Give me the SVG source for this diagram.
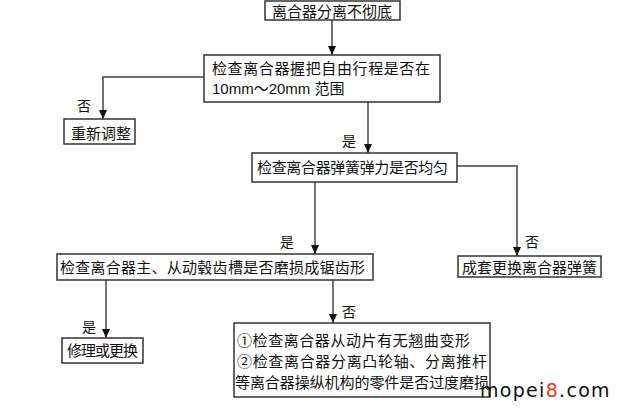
<svg xmlns="http://www.w3.org/2000/svg" width="640" height="414" viewBox="0 0 640 414">
<style>
.box{fill:#fff;stroke:#333;stroke-width:1.5}
.t{font-family:"Liberation Sans","Noto Sans CJK SC",sans-serif;font-size:15px;fill:#111}
.lb{font-family:"Noto Sans CJK SC",sans-serif;font-size:14px;fill:#111}
.ln{fill:none;stroke:#444;stroke-width:1.5}
.wm{font-family:"DejaVu Sans",sans-serif;font-size:19px;fill:#111;letter-spacing:1.3px}
</style>
<defs>
<marker id="ah" markerWidth="9" markerHeight="8" refX="9" refY="4" orient="auto" markerUnits="userSpaceOnUse" viewBox="0 0 9 8">
<path d="M0,0 L9,4 L0,8 Z" fill="#111"/>
</marker>
</defs>
<rect width="640" height="414" fill="#fff"/>
<g id="connectors">
<path class="ln" d="M332,20 V55" marker-end="url(#ah)"/>
<path class="ln" d="M204,77 H103 V119" marker-end="url(#ah)"/>
<path class="ln" d="M368,102 V153" marker-end="url(#ah)"/>
<path class="ln" d="M457,166 H517 V256" marker-end="url(#ah)"/>
<path class="ln" d="M315,182 V254" marker-end="url(#ah)"/>
<path class="ln" d="M106,280 V338" marker-end="url(#ah)"/>
<path class="ln" d="M333,280 V323" marker-end="url(#ah)"/>
<text class="lb" x="77" y="111">否</text>
<text class="lb" x="342" y="145.5">是</text>
<text class="lb" x="280" y="247">是</text>
<text class="lb" x="525" y="247">否</text>
<text class="lb" x="82" y="332">是</text>
<text class="lb" x="342" y="317">否</text>
</g>
<g id="n1">
<rect class="box" x="265" y="1" width="135" height="19"/>
<text class="t" x="272" y="17">离合器分离不彻底</text>
</g>
<g id="n2">
<rect class="box" x="204" y="55" width="236" height="47"/>
<text class="t" x="212" y="73.5" textLength="218">检查离合器握把自由行程是否在</text>
<text class="t" x="212" y="93.5">10mm～20mm 范围</text>
</g>
<g id="n3">
<rect class="box" x="64" y="119" width="71" height="25"/>
<text class="t" x="71" y="138.5">重新调整</text>
</g>
<g id="n4">
<rect class="box" x="252" y="153" width="205" height="29"/>
<text class="t" x="257" y="172.5" textLength="191">检查离合器弹簧弹力是否均匀</text>
</g>
<g id="n5">
<rect class="box" x="458" y="256" width="143" height="21"/>
<text class="t" x="462" y="272.5">成套更换离合器弹簧</text>
</g>
<g id="n6">
<rect class="box" x="57" y="254" width="316" height="26"/>
<text class="t" x="60" y="272.5" textLength="305">检查离合器主、从动毂齿槽是否磨损成锯齿形</text>
</g>
<g id="n7">
<rect class="box" x="62" y="338" width="81" height="25"/>
<text class="t" x="67" y="355.5" textLength="71">修理或更换</text>
</g>
<g id="n8">
<rect class="box" x="234" y="323" width="256" height="74"/>
<text class="t" x="237" y="345.5" textLength="233">①检查离合器从动片有无翘曲变形</text>
<text class="t" x="237" y="366.5" textLength="250">②检查离合器分离凸轮轴、分离推杆</text>
<text class="t" x="235" y="387.5" textLength="254">等离合器操纵机构的零件是否过度磨损</text>
</g>
<text class="wm" x="480" y="397">mopei<tspan fill="#e63a1e">8</tspan>.com</text>
</svg>
